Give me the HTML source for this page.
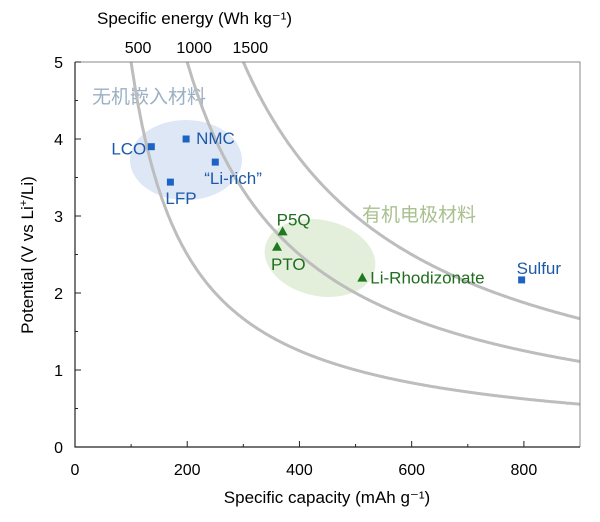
<!DOCTYPE html>
<html><head><meta charset="utf-8"><style>
body{margin:0;background:#fff;}
svg text{font-family:"Liberation Sans","Noto Sans CJK SC",sans-serif;}
</style></head><body>
<svg id="chart" width="600" height="517" xmlns="http://www.w3.org/2000/svg">
<g id="bg"></g><g id="curves"></g><g id="axes"></g><g id="marks"></g>
</svg>
<script>
const xTicks=[0,200,400,600,800];
const yTicks=[0,1,2,3,4,5];
const energyLevels=[500,1000,1500];
const cathodeNames=["LCO","NMC","\u201cLi-rich\u201d","LFP","Sulfur"];
const cathodeCap=[136,198,250,170,796];
const cathodeV=[3.9,4.0,3.7,3.44,2.17];
const organicNames=["P5Q","PTO","Li-Rhodizonate"];
const organicCap=[370,360,512];
const organicV=[2.8,2.6,2.2];
const X0=75,X1=580,Y0=447,Y1=62;
const xs=c=>X0+c*(X1-X0)/900, ys=v=>Y0-v*(Y0-Y1)/5;
const NS="http://www.w3.org/2000/svg";
function mk(tag,attrs,parent,text){const e=document.createElementNS(NS,tag);for(const k in attrs)e.setAttribute(k,attrs[k]);if(text!==undefined)e.textContent=text;document.getElementById(parent).appendChild(e);return e;}
let e1=mk('ellipse',{cx:186,cy:160,rx:56,ry:40,fill:'#dde7f5'},'bg');


let e2=mk('ellipse',{cx:320,cy:258,rx:56,ry:38,fill:'#e3eedb',transform:'rotate(12 320 258)'},'bg');


let t1=mk('text',{x:92,y:103,'font-size':19,fill:'#9bb0c4'},'bg','无机嵌入材料');


let t2=mk('text',{x:362,y:221,'font-size':19,fill:'#a9c08f'},'bg','有机电极材料');


const topLabelX=[138,185,247];
energyLevels.forEach((E,i)=>{let d='';for(let c=E/5;c<=900;c+=2){d+=(d?'L':'M')+xs(c).toFixed(1)+','+ys(E/c).toFixed(1);}
 const p=mk('path',{d:d,fill:'none',stroke:'#bdbdbd','stroke-width':3},'curves');
 
 
 const t=mk('text',{x:xs(E/5)+7,y:53,'font-size':16,'text-anchor':'middle',fill:'#000'},'axes',String(E));
 
 
});
let fr=mk('path',{d:`M${X0},${Y1}H${X1}V${Y0}`,fill:'none',stroke:'#888','stroke-width':1},'axes');


let ax=mk('path',{d:`M${X0},${Y1}V${Y0}H${X1}`,fill:'none',stroke:'#222','stroke-width':1.2},'axes');


xTicks.forEach(v=>{const x=xs(v);mk('line',{x1:x,x2:x,y1:Y0,y2:Y0-6,stroke:'#222'},'axes');
 const t=mk('text',{x:x,y:475,'font-size':16,'text-anchor':'middle'},'axes',String(v));
 
 });
for(let v=100;v<900;v+=200){mk('line',{x1:xs(v),x2:xs(v),y1:Y0,y2:Y0-3,stroke:'#222'},'axes');}
yTicks.forEach(v=>{const y=ys(v);mk('line',{x1:X0,x2:X0+6,y1:y,y2:y,stroke:'#222'},'axes');
 const t=mk('text',{x:63,y:y+6,'font-size':16,'text-anchor':'end'},'axes',String(v));
 
 });
for(let v=0.5;v<5;v+=1){mk('line',{x1:X0,x2:X0+3,y1:ys(v),y2:ys(v),stroke:'#222'},'axes');}
let xt=mk('text',{x:327,y:503,'font-size':17,'text-anchor':'middle'},'axes','Specific capacity (mAh g\u207B\u00B9)');


let tt=mk('text',{x:97,y:24,'font-size':17},'axes','Specific energy (Wh kg\u207B\u00B9)');


let yt=mk('text',{x:0,y:0,'font-size':17,'text-anchor':'middle',transform:'translate(33,255) rotate(-90)'},'axes');
yt.innerHTML='Potential (V vs Li<tspan dy="-6" font-size="11">+</tspan><tspan dy="6">/Li)</tspan>';


const cOff=[[-5,8,'end'],[10,5,'start'],[-11,22,'start'],[-5,22,'start'],[-5,-6,'start']];
cathodeNames.forEach((n,i)=>{const x=xs(cathodeCap[i]),y=ys(cathodeV[i]);
 const r=mk('rect',{x:x-3.5,y:y-3.5,width:7,height:7,fill:'#1c64c4'},'marks');
 
 
 const t=mk('text',{x:x+cOff[i][0],y:y+cOff[i][1],'font-size':17,fill:'#1c5aa8','text-anchor':cOff[i][2]},'marks',n);
 
 });
const oOff=[[-6,-6],[-6,23],[8,6]];
organicNames.forEach((n,i)=>{const x=xs(organicCap[i]),y=ys(organicV[i]);
 const p=mk('path',{d:`M${x},${y-5}L${x+5},${y+4}L${x-5},${y+4}Z`,fill:'#1e7a1e'},'marks');
 
 
 const t=mk('text',{x:x+oOff[i][0],y:y+oOff[i][1],'font-size':17,fill:'#1e6e1e'},'marks',n);
 
 });
</script>
</body></html>
